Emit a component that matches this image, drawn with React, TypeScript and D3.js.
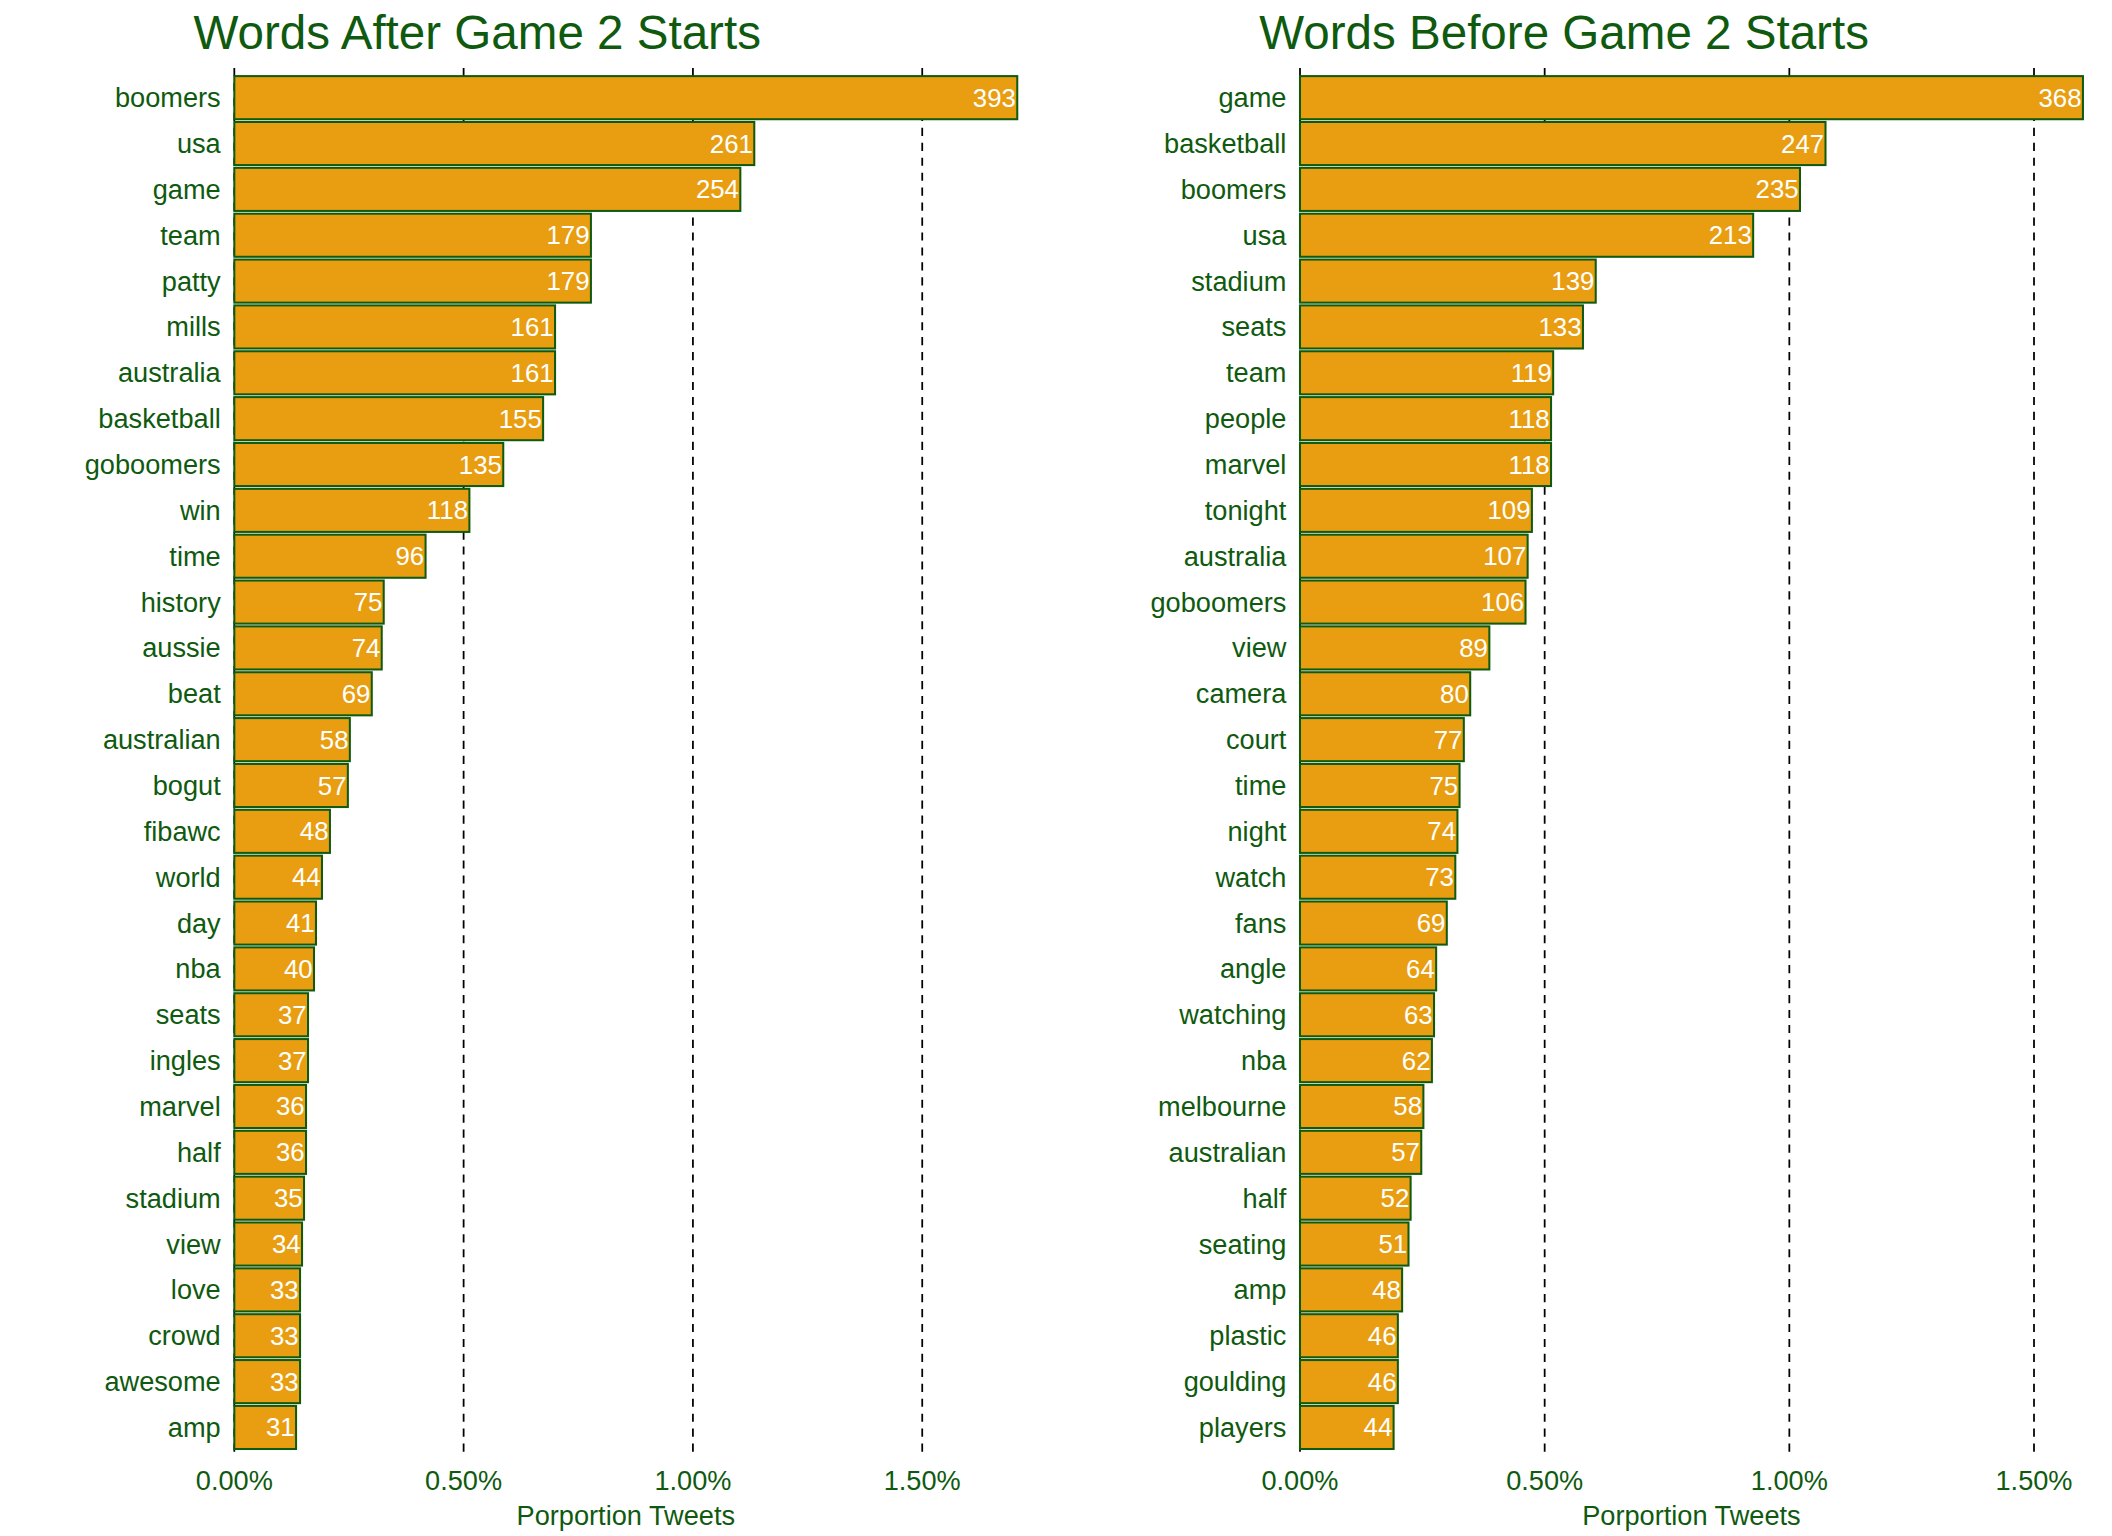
import React from 'react'
import * as d3 from 'd3'

const afterWords = ['boomers','usa','game','team','patty','mills','australia','basketball','goboomers','win','time','history','aussie','beat','australian','bogut','fibawc','world','day','nba','seats','ingles','marvel','half','stadium','view','love','crowd','awesome','amp']
const afterCounts = [393,261,254,179,179,161,161,155,135,118,96,75,74,69,58,57,48,44,41,40,37,37,36,36,35,34,33,33,33,31]
const beforeWords = ['game','basketball','boomers','usa','stadium','seats','team','people','marvel','tonight','australia','goboomers','view','camera','court','time','night','watch','fans','angle','watching','nba','melbourne','australian','half','seating','amp','plastic','goulding','players']
const beforeCounts = [368,247,235,213,139,133,119,118,118,109,107,106,89,80,77,75,74,73,69,64,63,62,58,57,52,51,48,46,46,44]
const totals = [23020, 23000]
const tickValues = [0, 0.005, 0.01, 0.015]

const W = 1545, H = 1130
const green = '#0f5a0f'
const font = 'Arial, "Liberation Sans", sans-serif'

function Panel({ title, words, counts, total, x0, x1 }: any) {
  const x = d3.scaleLinear().domain([0, d3.max(counts) as number / total]).range([x0, x1])
  const y = d3.scaleBand().domain(words).range([56, 1066]).paddingInner(0.06)
  const fmt = d3.format('.2%')
  return (
    <g fontFamily={font}>
      <text x={x0 - 30} y={36} fontSize={35} fill={green}>{title}</text>
      {tickValues.map(t => (
        <g key={t}>
          <line x1={x(t)} x2={x(t)} y1={50} y2={1070} stroke="#000" strokeDasharray="6,5" strokeWidth={1.3} />
          <text x={x(t)} y={1096} fontSize={20} fill={green} textAnchor="middle">{fmt(t)}</text>
        </g>
      ))}
      {words.map((w: string, i: number) => {
        const v = counts[i] / total
        const yy = y(w) as number
        const cy = yy + y.bandwidth() / 2
        return (
          <g key={w}>
            <rect x={x(0)} y={yy} width={x(v) - x(0)} height={y.bandwidth()} fill="#E89E10" stroke={green} strokeWidth={1.5} />
            <text x={x(0) - 10} y={cy} dy="0.35em" fontSize={20} fill={green} textAnchor="end">{w}</text>
            <text x={x(v) - 1} y={cy} dy="0.35em" fontSize={19} fill="#fff" textAnchor="end">{counts[i]}</text>
          </g>
        )
      })}
      <text x={(x0 + x1) / 2} y={1122} fontSize={20} fill={green} textAnchor="middle">Porportion Tweets</text>
    </g>
  )
}

export default function App() {
  return (
    <svg width={2112} height={1536} viewBox={`0 0 ${W} ${H}`} style={{ position: 'absolute', left: 0, top: 0, background: '#fff' }}>
      <Panel title="Words After Game 2 Starts" words={afterWords} counts={afterCounts} total={totals[0]} x0={168} x1={744} />
      <Panel title="Words Before Game 2 Starts" words={beforeWords} counts={beforeCounts} total={totals[1]} x0={952} x1={1528} />
    </svg>
  )
}
